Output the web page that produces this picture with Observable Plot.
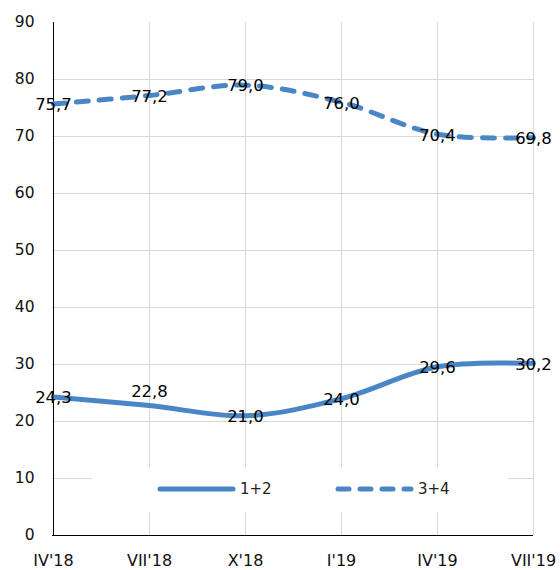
<!DOCTYPE html>
<html>
<head>
<meta charset="utf-8">
<script src="https://cdn.jsdelivr.net/npm/d3@7"></script>
<script src="https://cdn.jsdelivr.net/npm/@observablehq/plot@0.6"></script>
<style>
  html, body { margin: 0; padding: 0; background: #fff; }
  #wrap { position: relative; width: 560px; height: 570px; font-family: "DejaVu Sans", Verdana, sans-serif; }
  #legend { position: absolute; left: 92px; top: 467px; width: 416px; height: 45px; background: #fff; }
  .item { position: absolute; top: 12px; display: flex; align-items: center; color: #222; font-family: "DejaVu Sans", Verdana, sans-serif; }
  .item span { font-size: 15px; }
  .item svg { margin-right: 3px; }
</style>
</head>
<body>
<div id="wrap"></div>
<script>
const periods = ["IV'18", "VII'18", "X'18", "I'19", "IV'19", "VII'19"];
const series12 = [24.3, 22.8, 21.0, 24.0, 29.6, 30.2];
const series34 = [75.7, 77.2, 79.0, 76.0, 70.4, 69.8];
const seriesNames = ["1+2", "3+4"];
const yTicks = [0, 10, 20, 30, 40, 50, 60, 70, 80, 90];
const gridTicks = [10, 20, 30, 40, 50, 60, 70, 80];
const color = "#4a86c6";

const data = [];
periods.forEach((p, i) => {
  data.push({period: p, value: series12[i], series: seriesNames[0], above: i === 1});
  data.push({period: p, value: series34[i], series: seriesNames[1], above: false});
});
const fmt = v => v.toFixed(1).replace(".", ",");

const chart = Plot.plot({
  width: 560,
  height: 570,
  marginLeft: 52,
  marginRight: 27,
  marginTop: 22,
  marginBottom: 35,
  style: {fontFamily: "DejaVu Sans, Verdana, sans-serif", fontSize: "15px", color: "#111", background: "#fff"},
  x: {type: "point", domain: periods, padding: 0, label: null},
  y: {domain: [0, 90], label: null},
  marks: [
    Plot.gridY(gridTicks, {stroke: "#d9d9d9", strokeOpacity: 1, strokeWidth: 1}),
    Plot.gridX(periods.slice(1), {stroke: "#d9d9d9", strokeOpacity: 1, strokeWidth: 1}),
    Plot.axisY(yTicks, {tickSize: 0, tickPadding: 18, fontSize: 15.5, fill: "#111"}),
    Plot.axisX(periods, {tickSize: 0, tickPadding: 19, fontSize: 16, fill: "#111"}),
    Plot.ruleX([periods[0]], {stroke: "#000", strokeWidth: 1}),
    Plot.ruleY([0], {stroke: "#000", strokeWidth: 1}),
    Plot.line(data.filter(d => d.series === seriesNames[0]), {x: "period", y: "value", stroke: color, strokeWidth: 5, curve: "catmull-rom", strokeLinecap: "round"}),
    Plot.line(data.filter(d => d.series === seriesNames[1]), {x: "period", y: "value", stroke: color, strokeWidth: 5, curve: "catmull-rom", strokeLinecap: "round", strokeDasharray: "12,11"}),
    Plot.text(data.filter(d => !d.above), {x: "period", y: "value", text: d => fmt(d.value), fontSize: 16.5, fill: "#000", dy: 1}),
    Plot.text(data.filter(d => d.above), {x: "period", y: "value", text: d => fmt(d.value), fontSize: 16.5, fill: "#000", dy: -14})
  ]
});

const wrap = document.getElementById("wrap");
wrap.appendChild(chart);

const legend = document.createElement("div");
legend.id = "legend";
const items = [
  {name: seriesNames[0], left: 65, dash: null},
  {name: seriesNames[1], left: 243, dash: "11,11"}
];
items.forEach(it => {
  const div = document.createElement("div");
  div.className = "item";
  div.style.left = it.left + "px";
  div.innerHTML = `<svg width="80" height="20"><line x1="3" y1="10" x2="76" y2="10" stroke="${color}" stroke-width="5" stroke-linecap="round" ${it.dash ? `stroke-dasharray="${it.dash}"` : ""}/></svg><span>${it.name}</span>`;
  legend.appendChild(div);
});
wrap.appendChild(legend);
</script>
</body>
</html>
